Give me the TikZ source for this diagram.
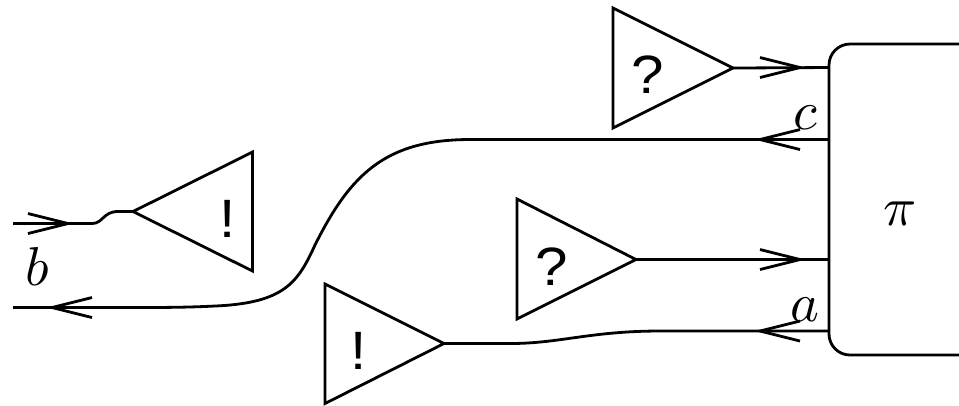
\documentclass[tikz,border=0pt]{standalone}
\usepackage{fontspec}
\newfontfamily\qfont[FakeStretch=1.08]{Liberation Sans}
\tikzset{
  wire/.style={line width=0.56pt},
  tri/.style={wire,line join=miter},
  lab/.style={inner sep=0pt,anchor=base,font=\fontsize{11}{13}\selectfont},
  sflab/.style={inner sep=0pt,anchor=base,font=\fontsize{10.8}{13}\selectfont\qfont},
  barbhead/.pic={\draw[wire,line join=miter] (-40,-10) -- (0,0) -- (-40,10);},
}
\begin{document}
\begin{tikzpicture}[x=0.2pt,y=-0.2pt]
\useasboundingbox (0,0) rectangle (959,405);
% triangles
\draw[tri] (613,8) -- (613,128) -- (733,68) -- cycle;
\draw[tri] (517,199) -- (517,319) -- (636,259.5) -- cycle;
\draw[tri] (325,284) -- (325,403.5) -- (444,343.5) -- cycle;
\draw[tri] (252.5,152) -- (252.5,271) -- (133,211.5) -- cycle;
\coordinate (q1) at (733,68);
\coordinate (q2) at (636,259.5);
\coordinate (e1) at (444,343.5);
\coordinate (e2) at (133,211.5);
% box
\draw[wire,rounded corners=4.2pt] (970,44) -- (829,44) -- (829,355) -- (970,355);
\coordinate (p1) at (829,67.5);
\coordinate (p2) at (829,139.5);
\coordinate (p3) at (829,259.5);
\coordinate (p4) at (829,331);
\coordinate (f1) at (13,223.5);
\coordinate (f2) at (13,307.5);
% connectors
\draw[wire] (q1) -- (p1);
\draw[wire] (q2) -- (p3);
\draw[wire] (p2) -- (470,139.5) .. controls (385,139.5) and (350,175) .. (315,245)
  .. controls (298,282) and (285,303) .. (215,306)
  .. controls (185,307.5) and (160,307.5) .. (130,307.5) -- (f2);
\draw[wire] (p4) -- (660,331) .. controls (590,331) and (560,343.5) .. (510,343.5) -- (e1);
\draw[wire] (f1) -- (92,223.5) .. controls (103,223.5) and (103,211.5) .. (118,211.5) -- (e2);
% arrowheads
\pic at (800,67.5) {barbhead};
\pic at (800,259.5) {barbhead};
\pic[rotate=180] at (760,139.5) {barbhead};
\pic[rotate=180] at (760,331) {barbhead};
\pic at (68,223.5) {barbhead};
\pic[rotate=180] at (52,307.5) {barbhead};
% labels
\node[sflab] (lq1) at (648,93) {?};
\node[sflab] (lq2) at (552,285) {?};
\node[sflab] (le1) at (359,369) {!};
\node[sflab] (le2) at (228,237) {!};
\node[lab] (lb) at (37,285) {$b$};
\node[lab] (lc) at (805,129) {$c$};
\node[lab] (la) at (805,321) {$a$};
\node[lab] (lpi) at (900,225) {$\pi$};
\end{tikzpicture}
\end{document}
